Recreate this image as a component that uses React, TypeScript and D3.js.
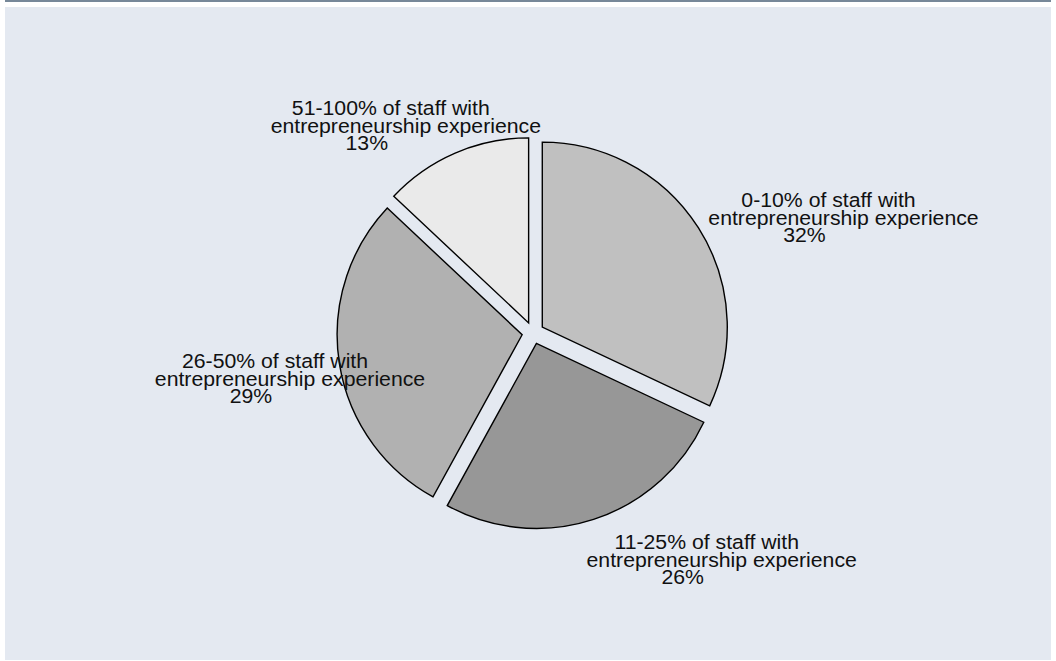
import React from "react";
import * as d3 from "d3";

const categories = [
  "0-10% of staff with",
  "11-25% of staff with",
  "26-50% of staff with",
  "51-100% of staff with",
];
const subtitle = "entrepreneurship experience";
const values = [32, 26, 29, 13];
const colors = ["#c0c0c0", "#979797", "#b1b1b1", "#eaeaea"];

// label anchor offsets relative to pie centre (layout)
const labelOffsets: [number, number][] = [
  [310.5, -108.5],
  [188.7, 233.7],
  [-243, 52.7],
  [-127.2, -200.5],
];
const lineDx = [-15, 0, -39];

const W = 1056;
const H = 661;
const cx = 533;
const cy = 333;
const R = 185;
const explode = 11;
const fontSize = 19.5;
const sx = 1.09;
const lineH = 17.5;

export default function App() {
  const pie = d3
    .pie<number>()
    .sort(null)
    .value((d) => d)
    .startAngle(0)
    .endAngle(2 * Math.PI);
  const arcs = pie(values);
  const arcGen = d3.arc<d3.PieArcDatum<number>>().innerRadius(0).outerRadius(R);

  return (
    <div style={{ position: "absolute", left: 0, top: 0 }}>
      <svg width={W} height={H} style={{ display: "block" }}>
        <rect x={0} y={0} width={W} height={H} fill="#ffffff" />
        <rect x={5} y={0} width={1046} height={2} fill="#778899" />
        <rect x={5} y={7} width={1046} height={653} fill="#e4e9f1" />
        <g transform={`translate(${cx},${cy})`}>
          {arcs.map((a, i) => {
            const mid = (a.startAngle + a.endAngle) / 2;
            const dx = Math.sin(mid) * explode;
            const dy = -Math.cos(mid) * explode;
            return (
              <path
                key={i}
                d={arcGen(a) || ""}
                transform={`translate(${dx},${dy})`}
                fill={colors[i]}
                stroke="#000"
                strokeWidth={1.4}
                strokeLinejoin="miter"
              />
            );
          })}
          {arcs.map((a, i) => {
            const [ox, oy] = labelOffsets[i];
            const lines = [categories[i], subtitle, `${values[i]}%`];
            return (
              <g key={"l" + i} transform={`translate(${ox},${oy}) scale(${sx},1)`}>
                {lines.map((t, j) => (
                  <text
                    key={j}
                    x={lineDx[j] / sx}
                    y={(j - 1) * lineH}
                    textAnchor="middle"
                    fontFamily="'Liberation Sans', Arial, sans-serif"
                    fontSize={fontSize}
                    fill="#111"
                  >
                    {t}
                  </text>
                ))}
              </g>
            );
          })}
        </g>
      </svg>
    </div>
  );
}
